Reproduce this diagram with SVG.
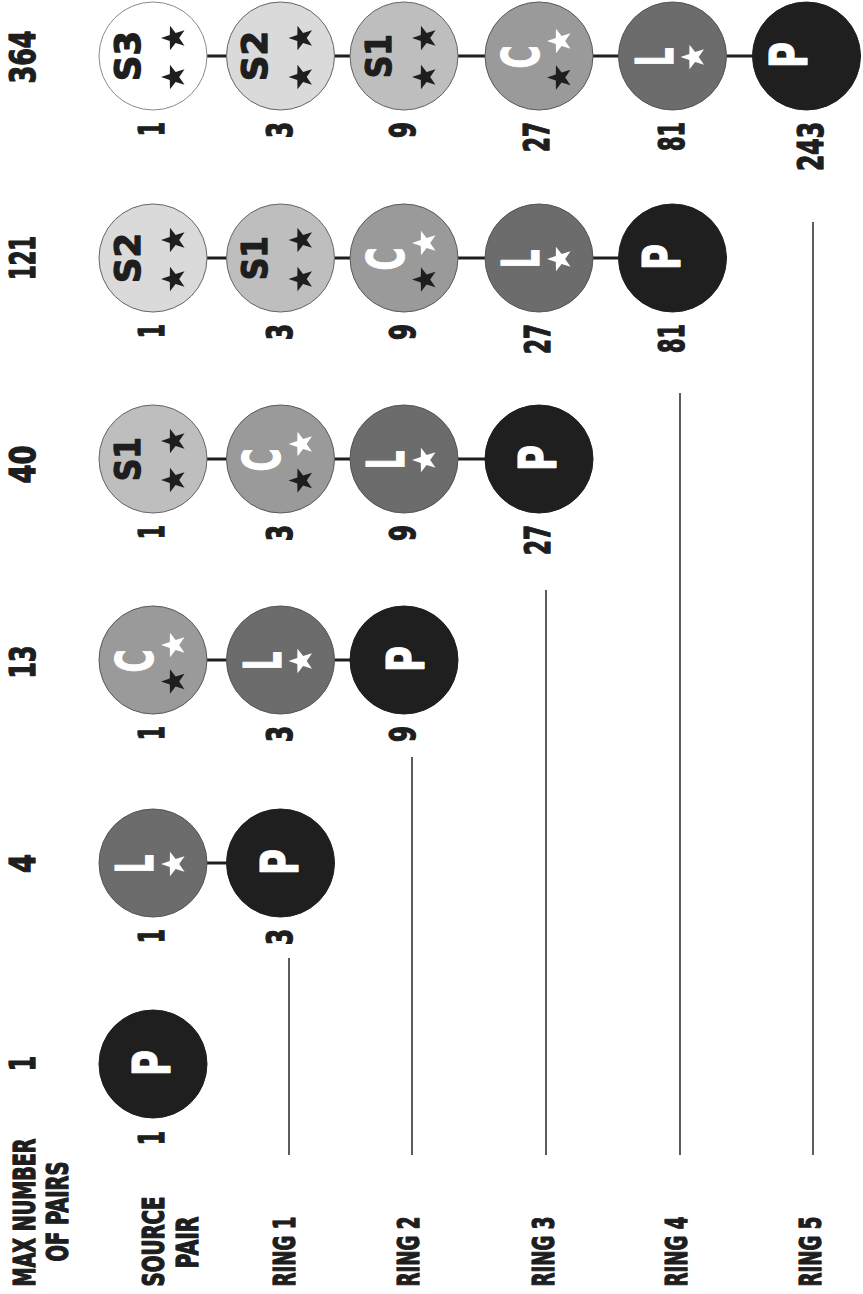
<svg xmlns="http://www.w3.org/2000/svg" xmlns:xlink="http://www.w3.org/1999/xlink" width="863" height="1294" viewBox="0 0 863 1294">
<style>
.t{font-family:"Liberation Sans Narrow","DejaVu Sans Condensed","Liberation Sans",sans-serif;font-weight:700}
.dk{fill:#1e1e1e}
.wh{fill:#ffffff}
text.dk{stroke:#1e1e1e;stroke-width:1.3;stroke-linejoin:round}
text.wh{stroke:#ffffff;stroke-width:1.1;stroke-linejoin:round}
.n circle{stroke-width:1}
.s3{fill:#ffffff;stroke:#8a8a8a}
.s2{fill:#dadada;stroke:#666}
.s1{fill:#bebebe;stroke:#666}
.cc{fill:#9a9a9a;stroke:#5a5a5a}
.ll{fill:#6c6c6c;stroke:#555}
.pp{fill:#1f1f1f;stroke:#1f1f1f}
.link{stroke:#1e1e1e;stroke-width:3;fill:none}
.ring{stroke:#333;stroke-width:1.6;fill:none}
</style>
<defs>
<path id="star" d="M-13,0 L-4.2,-3.05 L-4.02,-12.36 L1.61,-4.95 L10.52,-7.64 L5.2,0 L10.52,7.64 L1.61,4.95 L-4.02,12.36 L-4.2,3.05 Z"/>
</defs>
<rect width="863" height="1294" fill="#fff"/>

<g id="connectors">
<path class="link" d="M207,56H226.5M334.5,56H350M458,56H485M593,56H618.5M726.5,56H752.5"/>
<path class="link" d="M207,258H226.5M334.5,258H350M458,258H485M593,258H618.5"/>
<path class="link" d="M207,459H226.5M334.5,459H350M458,459H485"/>
<path class="link" d="M207,660H226.5M334.5,660H350"/>
<path class="link" d="M207,863H226.5"/>
</g>

<g id="ring-lines">
<line class="ring" x1="289" y1="958" x2="289" y2="1155"/>
<line class="ring" x1="412" y1="757" x2="412" y2="1155"/>
<line class="ring" x1="546" y1="590" x2="546" y2="1155"/>
<line class="ring" x1="680" y1="393" x2="680" y2="1155"/>
<line class="ring" x1="813" y1="222" x2="813" y2="1155"/>
</g>

<g id="header-labels" class="t">
<text class="dk" font-size="30" text-anchor="middle" textLength="148" lengthAdjust="spacingAndGlyphs" transform="translate(35,1212.5) rotate(-90)">MAX NUMBER</text>
<text class="dk" font-size="30" text-anchor="middle" textLength="100" lengthAdjust="spacingAndGlyphs" transform="translate(68,1211.5) rotate(-90)">OF PAIRS</text>
<text class="dk" font-size="30" text-anchor="middle" textLength="90" lengthAdjust="spacingAndGlyphs" transform="translate(164,1241.5) rotate(-90)">SOURCE</text>
<text class="dk" font-size="30" text-anchor="middle" textLength="52" lengthAdjust="spacingAndGlyphs" transform="translate(198,1242.5) rotate(-90)">PAIR</text>
<text class="dk" font-size="30" text-anchor="middle" textLength="70" lengthAdjust="spacingAndGlyphs" transform="translate(295,1251.5) rotate(-90)">RING 1</text>
<text class="dk" font-size="30" text-anchor="middle" textLength="70" lengthAdjust="spacingAndGlyphs" transform="translate(418.5,1251.5) rotate(-90)">RING 2</text>
<text class="dk" font-size="30" text-anchor="middle" textLength="70" lengthAdjust="spacingAndGlyphs" transform="translate(553.5,1251.5) rotate(-90)">RING 3</text>
<text class="dk" font-size="30" text-anchor="middle" textLength="70" lengthAdjust="spacingAndGlyphs" transform="translate(687,1251.5) rotate(-90)">RING 4</text>
<text class="dk" font-size="30" text-anchor="middle" textLength="70" lengthAdjust="spacingAndGlyphs" transform="translate(821,1251.5) rotate(-90)">RING 5</text>
</g>

<g id="max-pairs" class="t" font-size="35" text-anchor="middle">
<text class="dk" textLength="53" lengthAdjust="spacingAndGlyphs" transform="translate(35,57) rotate(-90)">364</text>
<text class="dk" textLength="44" lengthAdjust="spacingAndGlyphs" transform="translate(35,258) rotate(-90)">121</text>
<text class="dk" textLength="38" lengthAdjust="spacingAndGlyphs" transform="translate(35,464.5) rotate(-90)">40</text>
<text class="dk" textLength="33" lengthAdjust="spacingAndGlyphs" transform="translate(35,662) rotate(-90)">13</text>
<text class="dk" textLength="19" lengthAdjust="spacingAndGlyphs" transform="translate(35,863.5) rotate(-90)">4</text>
<text class="dk" textLength="15" lengthAdjust="spacingAndGlyphs" transform="translate(35,1063.5) rotate(-90)">1</text>
</g>

<!-- group 364 -->
<g id="n364-s3" class="n">
<circle class="s3" cx="153" cy="56" r="54"/>
<text class="t dk" font-size="36" text-anchor="middle" textLength="50" lengthAdjust="spacingAndGlyphs" transform="translate(139.5,56) rotate(-90)">S3</text>
<use xlink:href="#star" class="dk" x="174" y="38"/><use xlink:href="#star" class="dk" x="174" y="77"/>
<text class="t dk" font-size="35" text-anchor="end" textLength="14" lengthAdjust="spacingAndGlyphs" transform="translate(164,122) rotate(-90)">1</text>
</g>
<g id="n364-s2" class="n">
<circle class="s2" cx="280.5" cy="56" r="54"/>
<text class="t dk" font-size="36" text-anchor="middle" textLength="50" lengthAdjust="spacingAndGlyphs" transform="translate(267,56) rotate(-90)">S2</text>
<use xlink:href="#star" class="dk" x="301.5" y="38"/><use xlink:href="#star" class="dk" x="301.5" y="77"/>
<text class="t dk" font-size="35" text-anchor="end" textLength="16" lengthAdjust="spacingAndGlyphs" transform="translate(292,122) rotate(-90)">3</text>
</g>
<g id="n364-s1" class="n">
<circle class="s1" cx="404" cy="56" r="54"/>
<text class="t dk" font-size="36" text-anchor="middle" textLength="44" lengthAdjust="spacingAndGlyphs" transform="translate(390.5,56) rotate(-90)">S1</text>
<use xlink:href="#star" class="dk" x="425" y="38"/><use xlink:href="#star" class="dk" x="425" y="77"/>
<text class="t dk" font-size="35" text-anchor="end" textLength="16" lengthAdjust="spacingAndGlyphs" transform="translate(415,122) rotate(-90)">9</text>
</g>
<g id="n364-c" class="n">
<circle class="cc" cx="539" cy="56" r="54"/>
<text class="t wh" font-size="52" text-anchor="middle" textLength="23" lengthAdjust="spacingAndGlyphs" transform="translate(538.5,57) rotate(-90)">C</text>
<use xlink:href="#star" class="wh" x="560" y="41"/><use xlink:href="#star" class="dk" x="560" y="77.5"/>
<text class="t dk" font-size="35" text-anchor="end" textLength="30" lengthAdjust="spacingAndGlyphs" transform="translate(549,122) rotate(-90)">27</text>
</g>
<g id="n364-l" class="n">
<circle class="ll" cx="672.5" cy="56" r="54"/>
<text class="t wh" font-size="52" text-anchor="middle" textLength="19" lengthAdjust="spacingAndGlyphs" transform="translate(672.5,57) rotate(-90)">L</text>
<use xlink:href="#star" class="wh" x="693.5" y="57"/>
<text class="t dk" font-size="35" text-anchor="end" textLength="29" lengthAdjust="spacingAndGlyphs" transform="translate(683.5,122) rotate(-90)">81</text>
</g>
<g id="n364-p" class="n">
<circle class="pp" cx="806.5" cy="56" r="54"/>
<text class="t wh" font-size="52" text-anchor="middle" textLength="26" lengthAdjust="spacingAndGlyphs" transform="translate(807,55) rotate(-90)">P</text>
<text class="t dk" font-size="35" text-anchor="end" textLength="49" lengthAdjust="spacingAndGlyphs" transform="translate(823,122) rotate(-90)">243</text>
</g>

<!-- group 121 -->
<g id="n121-s2" class="n">
<circle class="s2" cx="153" cy="258" r="54"/>
<text class="t dk" font-size="36" text-anchor="middle" textLength="50" lengthAdjust="spacingAndGlyphs" transform="translate(139.5,258) rotate(-90)">S2</text>
<use xlink:href="#star" class="dk" x="174" y="240"/><use xlink:href="#star" class="dk" x="174" y="279"/>
<text class="t dk" font-size="35" text-anchor="end" textLength="14" lengthAdjust="spacingAndGlyphs" transform="translate(164,324) rotate(-90)">1</text>
</g>
<g id="n121-s1" class="n">
<circle class="s1" cx="280.5" cy="258" r="54"/>
<text class="t dk" font-size="36" text-anchor="middle" textLength="44" lengthAdjust="spacingAndGlyphs" transform="translate(267,258) rotate(-90)">S1</text>
<use xlink:href="#star" class="dk" x="301.5" y="240"/><use xlink:href="#star" class="dk" x="301.5" y="279"/>
<text class="t dk" font-size="35" text-anchor="end" textLength="16" lengthAdjust="spacingAndGlyphs" transform="translate(292,324) rotate(-90)">3</text>
</g>
<g id="n121-c" class="n">
<circle class="cc" cx="404" cy="258" r="54"/>
<text class="t wh" font-size="52" text-anchor="middle" textLength="23" lengthAdjust="spacingAndGlyphs" transform="translate(403.5,259) rotate(-90)">C</text>
<use xlink:href="#star" class="wh" x="425" y="243"/><use xlink:href="#star" class="dk" x="425" y="279.5"/>
<text class="t dk" font-size="35" text-anchor="end" textLength="16" lengthAdjust="spacingAndGlyphs" transform="translate(415,324) rotate(-90)">9</text>
</g>
<g id="n121-l" class="n">
<circle class="ll" cx="539" cy="258" r="54"/>
<text class="t wh" font-size="52" text-anchor="middle" textLength="19" lengthAdjust="spacingAndGlyphs" transform="translate(539,259) rotate(-90)">L</text>
<use xlink:href="#star" class="wh" x="560" y="259"/>
<text class="t dk" font-size="35" text-anchor="end" textLength="30" lengthAdjust="spacingAndGlyphs" transform="translate(550,324) rotate(-90)">27</text>
</g>
<g id="n121-p" class="n">
<circle class="pp" cx="672.5" cy="258" r="54"/>
<text class="t wh" font-size="52" text-anchor="middle" textLength="26" lengthAdjust="spacingAndGlyphs" transform="translate(680,257) rotate(-90)">P</text>
<text class="t dk" font-size="35" text-anchor="end" textLength="29" lengthAdjust="spacingAndGlyphs" transform="translate(683.5,324) rotate(-90)">81</text>
</g>

<!-- group 40 -->
<g id="n40-s1" class="n">
<circle class="s1" cx="153" cy="459" r="54"/>
<text class="t dk" font-size="36" text-anchor="middle" textLength="44" lengthAdjust="spacingAndGlyphs" transform="translate(139.5,459) rotate(-90)">S1</text>
<use xlink:href="#star" class="dk" x="174" y="441"/><use xlink:href="#star" class="dk" x="174" y="480"/>
<text class="t dk" font-size="35" text-anchor="end" textLength="14" lengthAdjust="spacingAndGlyphs" transform="translate(164,525) rotate(-90)">1</text>
</g>
<g id="n40-c" class="n">
<circle class="cc" cx="280.5" cy="459" r="54"/>
<text class="t wh" font-size="52" text-anchor="middle" textLength="23" lengthAdjust="spacingAndGlyphs" transform="translate(280,460) rotate(-90)">C</text>
<use xlink:href="#star" class="wh" x="301.5" y="444"/><use xlink:href="#star" class="dk" x="301.5" y="480.5"/>
<text class="t dk" font-size="35" text-anchor="end" textLength="16" lengthAdjust="spacingAndGlyphs" transform="translate(292,525) rotate(-90)">3</text>
</g>
<g id="n40-l" class="n">
<circle class="ll" cx="404" cy="459" r="54"/>
<text class="t wh" font-size="52" text-anchor="middle" textLength="19" lengthAdjust="spacingAndGlyphs" transform="translate(404,460) rotate(-90)">L</text>
<use xlink:href="#star" class="wh" x="425" y="460"/>
<text class="t dk" font-size="35" text-anchor="end" textLength="16" lengthAdjust="spacingAndGlyphs" transform="translate(415,525) rotate(-90)">9</text>
</g>
<g id="n40-p" class="n">
<circle class="pp" cx="539" cy="459" r="54"/>
<text class="t wh" font-size="52" text-anchor="middle" textLength="26" lengthAdjust="spacingAndGlyphs" transform="translate(556,458) rotate(-90)">P</text>
<text class="t dk" font-size="35" text-anchor="end" textLength="30" lengthAdjust="spacingAndGlyphs" transform="translate(550,525) rotate(-90)">27</text>
</g>

<!-- group 13 -->
<g id="n13-c" class="n">
<circle class="cc" cx="153" cy="660" r="54"/>
<text class="t wh" font-size="52" text-anchor="middle" textLength="23" lengthAdjust="spacingAndGlyphs" transform="translate(152.5,661) rotate(-90)">C</text>
<use xlink:href="#star" class="wh" x="174" y="645"/><use xlink:href="#star" class="dk" x="174" y="681.5"/>
<text class="t dk" font-size="35" text-anchor="end" textLength="14" lengthAdjust="spacingAndGlyphs" transform="translate(164,726) rotate(-90)">1</text>
</g>
<g id="n13-l" class="n">
<circle class="ll" cx="280.5" cy="660" r="54"/>
<text class="t wh" font-size="52" text-anchor="middle" textLength="19" lengthAdjust="spacingAndGlyphs" transform="translate(280.5,661) rotate(-90)">L</text>
<use xlink:href="#star" class="wh" x="301.5" y="661"/>
<text class="t dk" font-size="35" text-anchor="end" textLength="16" lengthAdjust="spacingAndGlyphs" transform="translate(292,726) rotate(-90)">3</text>
</g>
<g id="n13-p" class="n">
<circle class="pp" cx="404" cy="660" r="54"/>
<text class="t wh" font-size="52" text-anchor="middle" textLength="26" lengthAdjust="spacingAndGlyphs" transform="translate(424,659) rotate(-90)">P</text>
<text class="t dk" font-size="35" text-anchor="end" textLength="16" lengthAdjust="spacingAndGlyphs" transform="translate(415,726) rotate(-90)">9</text>
</g>

<!-- group 4 -->
<g id="n4-l" class="n">
<circle class="ll" cx="153" cy="863" r="54"/>
<text class="t wh" font-size="52" text-anchor="middle" textLength="19" lengthAdjust="spacingAndGlyphs" transform="translate(153,864) rotate(-90)">L</text>
<use xlink:href="#star" class="wh" x="174" y="864"/>
<text class="t dk" font-size="35" text-anchor="end" textLength="14" lengthAdjust="spacingAndGlyphs" transform="translate(164,929) rotate(-90)">1</text>
</g>
<g id="n4-p" class="n">
<circle class="pp" cx="280.5" cy="863" r="54"/>
<text class="t wh" font-size="52" text-anchor="middle" textLength="26" lengthAdjust="spacingAndGlyphs" transform="translate(298,862) rotate(-90)">P</text>
<text class="t dk" font-size="35" text-anchor="end" textLength="16" lengthAdjust="spacingAndGlyphs" transform="translate(292,929) rotate(-90)">3</text>
</g>

<!-- group 1 -->
<g id="n1-p" class="n">
<circle class="pp" cx="153" cy="1064" r="54"/>
<text class="t wh" font-size="52" text-anchor="middle" textLength="26" lengthAdjust="spacingAndGlyphs" transform="translate(170,1063) rotate(-90)">P</text>
<text class="t dk" font-size="35" text-anchor="end" textLength="14" lengthAdjust="spacingAndGlyphs" transform="translate(164,1131) rotate(-90)">1</text>
</g>
</svg>
